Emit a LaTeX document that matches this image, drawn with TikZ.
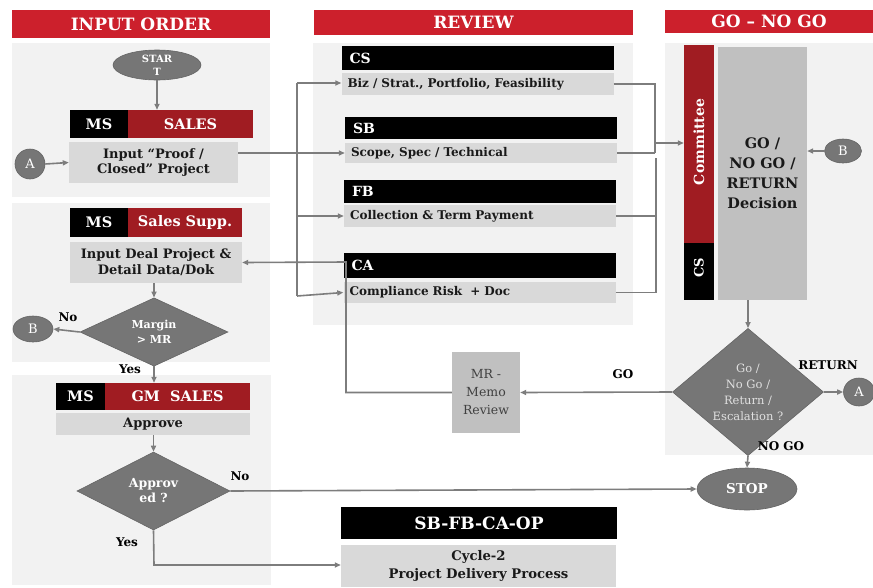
\documentclass[tikz,border=0pt]{standalone}
\usepackage{fontspec}
\setmainfont{DejaVu Serif}
\usetikzlibrary{shapes.geometric,arrows.meta}
\definecolor{hdrred}{RGB}{204,32,44}
\definecolor{barred}{RGB}{160,28,34}
\definecolor{panelgray}{RGB}{242,242,242}
\definecolor{boxgray}{RGB}{217,217,217}
\definecolor{decgray}{RGB}{192,192,192}
\definecolor{shapegray}{RGB}{118,118,118}
\definecolor{linegray}{RGB}{125,125,125}
\definecolor{memotext}{RGB}{64,64,64}
\definecolor{dtext}{RGB}{25,25,25}
\newcommand{\fsz}[2]{\fontsize{#1}{#2}\selectfont}
\begin{document}
\begin{tikzpicture}[x=1pt,y=-1pt,
  hdr/.style={fill=hdrred,text=white,font=\bfseries\fsz{17}{19},inner sep=0pt},
  panel/.style={fill=panelgray},
  blk/.style={fill=black,text=white,font=\bfseries\fsz{14.5}{16},inner sep=0pt},
  redbar/.style={fill=barred,text=white,font=\bfseries\fsz{14.5}{16},inner sep=0pt},
  gbox/.style={fill=boxgray,text=dtext,font=\bfseries\fsz{13}{16},inner sep=0pt,align=center},
  rbar/.style={fill=black,text=white,font=\bfseries\fsz{14}{15},inner xsep=8pt,inner ysep=0pt,text width=256pt,align=left},
  rbox/.style={fill=boxgray,text=dtext,font=\bfseries\fsz{12}{13},inner xsep=6pt,inner ysep=0pt,text width=260pt,align=left},
  gshape/.style={fill=shapegray,draw=shapegray!85!black,line width=0.6pt,text=white,inner sep=0pt,align=center},
  lbl/.style={text=black,font=\bfseries\fsz{12}{13},inner sep=0pt},
  conn/.style={draw=linegray,line width=1.6pt},
  arr/.style={conn,-{Triangle[length=6pt,width=5pt]}}
]
\useasboundingbox (0,0) rectangle (873,587);
\fill[white] (0,0) rectangle (873,587);

% panels
\fill[panel] (12,43) rectangle (270,197);
\fill[panel] (12,203) rectangle (270,362);
\fill[panel] (12,375) rectangle (271,585);
\fill[panel] (313,43) rectangle (633,325);
\fill[panel] (665,43) rectangle (873,455);

% headers
\node[hdr,minimum width=258pt,minimum height=28pt] (h1) at (141,24) {INPUT ORDER};
\node[hdr,minimum width=319pt,minimum height=25pt] (h2) at (473.5,22.5) {REVIEW};
\node[hdr,minimum width=208pt,minimum height=23pt] (h3) at (769,21.5) {GO -- NO GO};

% ---- Input panel 1
\node[gshape,ellipse,font=\bfseries\fsz{10}{13},minimum width=88pt,minimum height=30pt] (start) at (157,65) {STAR\\T};
\node[blk,minimum width=58pt,minimum height=28pt] (ms1) at (99,124) {MS};
\node[redbar,minimum width=125pt,minimum height=28pt] (sales) at (190.5,124) {SALES};
\node[gbox,minimum width=169pt,minimum height=41pt] (proof) at (153.5,162.5) {Input ``Proof /\\Closed'' Project};
\node[gshape,circle,font=\fsz{13}{16},minimum size=30pt] (a1) at (30,164) {A};

% ---- Input panel 2
\node[blk,minimum width=58pt,minimum height=29pt] (ms2) at (99,222.5) {MS};
\node[redbar,minimum width=114pt,minimum height=29pt] (supp) at (185,222.5) {Sales Supp.};
\node[gbox,minimum width=172pt,minimum height=41pt] (deal) at (156,262.5) {Input Deal Project \&\\Detail Data/Dok};
\node[gshape,diamond,font=\bfseries\fsz{11}{15},minimum width=148pt,minimum height=60pt] (margin) at (154,332) {Margin\\> MR};
\node[gshape,ellipse,font=\fsz{13}{16},minimum width=40pt,minimum height=26pt] (b1) at (33,329) {B};
\node[lbl] (lno1) at (68,317) {No};
\node[lbl] (lyes1) at (130,369) {Yes};

% ---- Input panel 3
\node[blk,minimum width=49pt,minimum height=27pt] (ms3) at (80.5,396.5) {MS};
\node[redbar,minimum width=145pt,minimum height=27pt] (gm) at (177.5,396.5) {GM\ \ SALES};
\node[gbox,minimum width=194pt,minimum height=22pt] (approve) at (153,424) {Approve};
\node[gshape,diamond,font=\bfseries\fsz{12.5}{15},minimum width=153pt,minimum height=78pt] (approved) at (153.5,491) {Approv\\ed ?};
\node[lbl] (lno2) at (240,476) {No};
\node[lbl] (lyes2) at (127,542) {Yes};

% ---- Review
\node[rbar,minimum height=24pt] (cs) at (477.5,58) {CS};
\node[rbox,minimum height=22pt] (biz) at (477.5,84) {Biz / Strat., Portfolio, Feasibility};
\node[rbar,minimum height=22pt] (sb) at (481,128) {SB};
\node[rbox,minimum height=20pt] (scope) at (481,153) {Scope, Spec / Technical};
\node[rbar,minimum height=23pt] (fb) at (480,191.5) {FB};
\node[rbox,minimum height=22pt] (coll) at (480,216) {Collection \& Term Payment};
\node[rbar,minimum height=25pt] (ca) at (479.5,265.5) {CA};
\node[rbox,minimum height=21pt] (comp) at (479.5,292.5) {Compliance Risk\ \ + Doc};

% ---- Go / No Go
\node[fill=barred,minimum width=30pt,minimum height=198pt,inner sep=0pt] (comm) at (699,144) {};
\node[rotate=90,text=white,font=\bfseries\fsz{14}{15},inner sep=0pt] (commtxt) at (699,142) {Committee};
\node[fill=black,minimum width=30pt,minimum height=57pt,inner sep=0pt] (cs2) at (699,271.5) {};
\node[rotate=90,text=white,font=\bfseries\fsz{13}{14},inner sep=0pt] (cs2txt) at (699,268) {CS};
\node[fill=decgray,text=dtext,font=\bfseries\fsz{14.5}{20},minimum width=89pt,minimum height=253pt,inner sep=0pt,align=center] (dec) at (762.5,173.5) {GO /\\NO GO /\\RETURN\\Decision};
\node[gshape,ellipse,font=\fsz{13}{16},minimum width=37pt,minimum height=24pt] (b2) at (843,151) {B};
\node[gshape,diamond,text=white!88!black,font=\fsz{11.5}{16},minimum width=151pt,minimum height=110pt] (godiam) at (748,392) {Go /\\No Go /\\Return /\\Escalation ?};
\node[gshape,ellipse,font=\fsz{13}{16},minimum width=31pt,minimum height=28pt] (a2) at (859,392) {A};
\node[lbl] (lret) at (828,365) {RETURN};
\node[lbl] (lgo) at (623,374) {GO};
\node[lbl] (lnogo) at (781,446) {NO GO};
\node[fill=decgray,text=memotext,font=\fsz{12.5}{18},minimum width=68pt,minimum height=81pt,inner sep=0pt,align=center] (memo) at (486,392.5) {MR -\\Memo\\Review};
\node[gshape,ellipse,font=\bfseries\fsz{13.5}{15},minimum width=100pt,minimum height=42pt] (stop) at (747,489) {STOP};

% ---- Bottom
\node[blk,font=\bfseries\fsz{17}{19},minimum width=276pt,minimum height=32pt] (sbfb) at (479,523) {SB-FB-CA-OP};
\node[gbox,font=\bfseries\fsz{13.2}{18},minimum width=275pt,minimum height=42pt] (cycle) at (478.5,566) {Cycle-2\\Project Delivery Process};

% ---- coordinates
\coordinate (busT) at (297,83);
\coordinate (busB) at (297,296);
\coordinate (retx) at (346,262);
\coordinate (rj) at (655,153);
\coordinate (ra) at (655,143);
\coordinate (rl) at (656,158);
\coordinate (ybend) at (154,565);

% ---- connectors: input side
\draw[arr] (start.south) -- (start.south |- sales.north);
\draw[arr] (a1.east) -- (proof.west);
\draw[arr] (deal.south -| margin.north) -- (margin.north);
\draw[arr] (margin.west) -- (b1.east);
\draw[arr] (margin.south) -- (margin.south |- gm.north);
\draw[arr] (approve.south -| approved.north) -- (approved.north);
\draw[arr] (approved.east) -- (stop.west);
\draw[arr] (approved.south) -- (ybend) -- (ybend -| cycle.west);

% ---- review distribution
\draw[conn] (busT) -- (busB);
\draw[arr] (busT) -- (busT -| biz.west);
\draw[arr] (proof.east |- scope.west) -- (scope.west);
\draw[arr] (busT |- coll.west) -- (coll.west);
\draw[arr] (busB) -- (comp.west);

% ---- review collection
\draw[conn] (biz.east) -| (rj);
\draw[conn] (scope.east) -- (rj);
\draw[arr] (ra) -- (ra -| comm.west);
\draw[conn] (coll.east) -| (rl);
\draw[conn] (comp.east) -| (rl);

% ---- go/no go
\draw[arr] (b2.west) -- (b2.west -| dec.east);
\draw[arr] (godiam.north |- dec.south) -- (godiam.north);
\draw[arr] (godiam.east) -- (a2.west);
\draw[arr] (godiam.west) -- (memo.east);
\draw[arr] (godiam.south) -- (stop.north);
\draw[arr] (memo.west) -| (retx) -- (deal.east);
\end{tikzpicture}
\end{document}
